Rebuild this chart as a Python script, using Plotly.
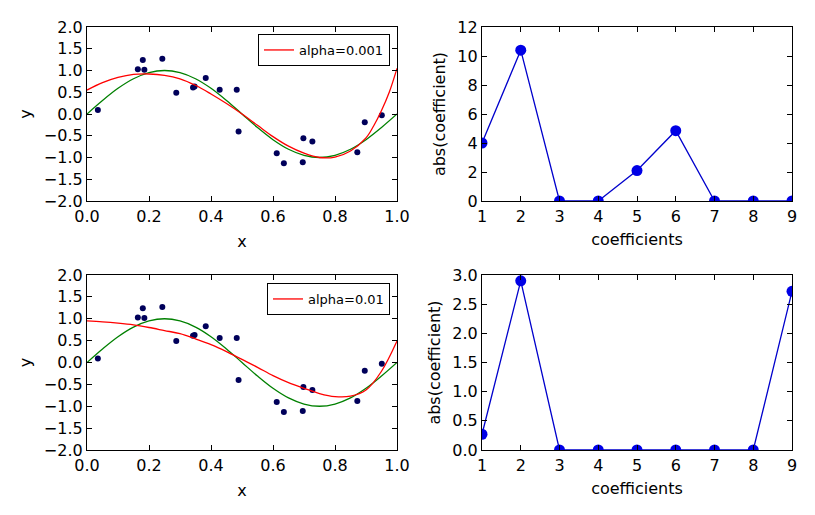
import plotly.graph_objects as go

# ---- data ----
pts_x = [0.035, 0.164, 0.180, 0.185, 0.243, 0.288, 0.342, 0.347, 0.383, 0.428,
         0.483, 0.489, 0.612, 0.635, 0.696, 0.698, 0.727, 0.872, 0.896, 0.951]
pts_y = [0.09, 1.03, 1.24, 1.02, 1.27, 0.49, 0.61, 0.63, 0.83, 0.56,
         0.56, -0.40, -0.90, -1.13, -1.11, -0.56, -0.63, -0.88, -0.19, -0.03]

curve_x = [0.0, 0.05, 0.1, 0.15, 0.2, 0.25, 0.3, 0.35, 0.4, 0.45, 0.5,
           0.55, 0.6, 0.65, 0.7, 0.75, 0.8, 0.85, 0.9, 0.95, 1.0]
true_y = [0.0, 0.31, 0.59, 0.81, 0.95, 1.0, 0.95, 0.81, 0.59, 0.31, 0.0,
          -0.31, -0.59, -0.81, -0.95, -1.0, -0.95, -0.81, -0.59, -0.31, 0.0]
fit1_x = [0.0, 0.05, 0.1, 0.15, 0.2, 0.25, 0.3, 0.35, 0.4, 0.45, 0.5,
          0.55, 0.6, 0.65, 0.7, 0.75, 0.8, 0.85, 0.9, 0.925, 0.95, 0.975, 1.0]
fit1_y = [0.55, 0.72, 0.84, 0.91, 0.92, 0.89, 0.81, 0.66, 0.46, 0.24, 0.0,
          -0.26, -0.52, -0.74, -0.90, -1.0, -0.99, -0.85, -0.55, -0.27, 0.08, 0.50, 1.05]
fit2_y = [0.95, 0.93, 0.90, 0.86, 0.80, 0.73, 0.66, 0.54, 0.41, 0.25, 0.07,
          -0.11, -0.30, -0.46, -0.59, -0.71, -0.78, -0.77, -0.63, -0.20, 0.49]

coef_idx = [1, 2, 3, 4, 5, 6, 7, 8, 9]
coef1 = [4.0, 10.4, 0, 0, 2.1, 4.85, 0, 0, 0]
coef2 = [0.27, 2.9, 0, 0, 0, 0, 0, 0, 2.72]

labels = ["alpha=0.001", "alpha=0.01"]

FONT = "DejaVu Sans"
W, H = 815, 515
OFF = 8  # page body margin shift
fig = go.Figure()

# top-left
fig.add_trace(go.Scatter(x=pts_x, y=pts_y, mode="markers", xaxis="x", yaxis="y",
                         marker=dict(color="#00005a", size=6, line=dict(width=0)), showlegend=False))
fig.add_trace(go.Scatter(x=curve_x, y=true_y, mode="lines", line=dict(color="#008000", width=1.3, shape="spline"),
                         xaxis="x", yaxis="y", showlegend=False))
fig.add_trace(go.Scatter(x=fit1_x, y=fit1_y, mode="lines", line=dict(color="#ff0000", width=1.3, shape="spline"),
                         xaxis="x", yaxis="y", name=labels[0], legend="legend"))
# bottom-left
fig.add_trace(go.Scatter(x=pts_x, y=pts_y, mode="markers", xaxis="x3", yaxis="y3",
                         marker=dict(color="#00005a", size=6, line=dict(width=0)), showlegend=False))
fig.add_trace(go.Scatter(x=curve_x, y=true_y, mode="lines", line=dict(color="#008000", width=1.3, shape="spline"),
                         xaxis="x3", yaxis="y3", showlegend=False))
fig.add_trace(go.Scatter(x=curve_x, y=fit2_y, mode="lines", line=dict(color="#ff0000", width=1.3, shape="spline"),
                         xaxis="x3", yaxis="y3", name=labels[1], legend="legend2"))
# right plots
fig.add_trace(go.Scatter(x=coef_idx, y=coef1, mode="lines+markers", xaxis="x2", yaxis="y2",
                         line=dict(color="#0000cc", width=1.3), marker=dict(color="#0000e6", size=11),
                         showlegend=False))
fig.add_trace(go.Scatter(x=coef_idx, y=coef2, mode="lines+markers", xaxis="x4", yaxis="y4",
                         line=dict(color="#0000cc", width=1.3), marker=dict(color="#0000e6", size=11),
                         showlegend=False))

ax = dict(showline=True, linecolor="black", linewidth=1.2, mirror="allticks", ticks="inside",
          ticklen=5, tickcolor="black", showgrid=False, zeroline=False, automargin=False,
          tickfont=dict(family=FONT, size=16, color="black"))

def px_x(a, b):
    return [(a - OFF) / W, (b - OFF) / W]

def px_y(top, bottom):
    return [1 - (bottom - OFF) / H, 1 - (top - OFF) / H]

xl = px_x(87, 397)
xr = px_x(482, 792)
yt = px_y(27, 201)
yb = px_y(275, 450)

def title(t, s):
    return dict(text=t, font=dict(family=FONT, size=16, color="black"), standoff=s)

fig.update_layout(
    width=W, height=H, margin=dict(l=0, r=0, t=0, b=0),
    plot_bgcolor="white", paper_bgcolor="white",
    font=dict(family=FONT, size=16, color="black"),
    xaxis=dict(ax, domain=xl, anchor="y", range=[0, 1], dtick=0.2, tickformat=".1f", title=title("x", 10), ticklabelstandoff=1),
    yaxis=dict(ax, domain=yt, anchor="x", range=[-2, 2], dtick=0.5, tickformat=".1f", title=title("y", 8)),
    xaxis2=dict(ax, domain=xr, anchor="y2", range=[1, 9], dtick=1, title=title("coefficients", 8), ticklabelstandoff=1),
    yaxis2=dict(ax, domain=yt, anchor="x2", range=[0, 12], dtick=2, title=title("abs(coefficient)", 7)),
    xaxis3=dict(ax, domain=xl, anchor="y3", range=[0, 1], dtick=0.2, tickformat=".1f", title=title("x", 10), ticklabelstandoff=1),
    yaxis3=dict(ax, domain=yb, anchor="x3", range=[-2, 2], dtick=0.5, tickformat=".1f", title=title("y", 8)),
    xaxis4=dict(ax, domain=xr, anchor="y4", range=[1, 9], dtick=1, title=title("coefficients", 8), ticklabelstandoff=1),
    yaxis4=dict(ax, domain=yb, anchor="x4", range=[0, 3], dtick=0.5, tickformat=".1f", title=title("abs(coefficient)", 7)),
    legend=dict(x=(390 - OFF) / W, y=1 - (34 - OFF) / H, xanchor="right", yanchor="top", bgcolor="white",
                bordercolor="black", borderwidth=1, font=dict(family=FONT, size=13, color="black"),
                itemwidth=30, tracegroupgap=0),
    legend2=dict(x=(390 - OFF) / W, y=1 - (283 - OFF) / H, xanchor="right", yanchor="top", bgcolor="white",
                 bordercolor="black", borderwidth=1, font=dict(family=FONT, size=13, color="black"),
                 itemwidth=30, tracegroupgap=0),
)

fig.write_html("out.html")
